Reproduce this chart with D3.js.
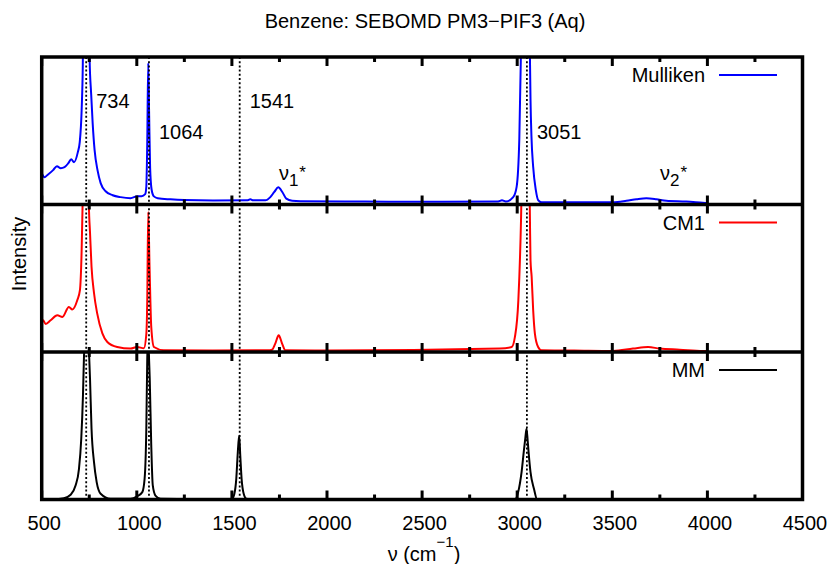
<!DOCTYPE html>
<html>
<head>
<meta charset="utf-8">
<script src="https://cdn.jsdelivr.net/npm/d3@7"></script>
<style>
  html, body { margin: 0; padding: 0; background: #ffffff; }
  svg { display: block; font-family: "Liberation Sans", Arial, Helvetica, sans-serif; }
</style>
</head>
<body>
<script>
// ---------------- data ----------------
const titleText = "Benzene: SEBOMD PM3\u2212PIF3 (Aq)";
const xDomain = [500, 4500];
const xMajorTicks = [500, 1000, 1500, 2000, 2500, 3000, 3500, 4000, 4500];
const xMinorTicks = [750, 1250, 1750, 2250, 2750, 3250, 3750, 4250];
const seriesNames = ["Mulliken", "CM1", "MM"];
const seriesColors = ["#0000ff", "#ff0000", "#000000"];

// [wavenumber cm^-1, relative intensity] (1 = top of panel; values above 1 are clipped)
const mulliken = [
  [500,0.215],[515,0.185],[530,0.2],[560,0.233],[580,0.26],[600,0.246],[620,0.253],[640,0.28],
  [655,0.307],[670,0.287],[690,0.355],[700,0.423],[710,0.64],[716,0.94],[722,1.7],[734,2.6],
  [746,1.7],[752,0.98],[760,0.75],[768,0.55],[778,0.37],[794,0.23],[810,0.145],[836,0.09],
  [873,0.063],[915,0.05],[967,0.043],[1004,0.056],[1025,0.056],[1044,0.07],[1050,0.12],[1055,0.42],
  [1060,0.96],[1065,0.6],[1070,0.25],[1078,0.1],[1090,0.055],[1110,0.043],[1177,0.035],[1250,0.03],
  [1400,0.027],[1580,0.028],[1597,0.036],[1612,0.028],[1676,0.028],[1702,0.05],[1723,0.085],[1744,0.117],
  [1765,0.085],[1786,0.04],[1817,0.025],[1860,0.022],[2200,0.02],[2600,0.018],[2900,0.02],[2920,0.028],
  [2940,0.02],[2979,0.05],[2997,0.12],[3011,0.44],[3019,0.98],[3030,2.0],[3045,2.6],[3058,2.0],
  [3066,1.1],[3070,0.71],[3075,0.46],[3084,0.255],[3098,0.097],[3110,0.03],[3128,0.015],[3300,0.015],
  [3504,0.015],[3574,0.025],[3627,0.036],[3679,0.043],[3732,0.036],[3784,0.025],[3889,0.02],[3976,0.012],
  [4000,0.01]
];
const cm1 = [
  [500,0.215],[507,0.215],[521,0.19],[547,0.215],[582,0.249],[609,0.238],[643,0.305],[661,0.288],
  [687,0.351],[701,0.419],[710,0.69],[715,1.0],[722,1.8],[734,2.6],[742,1.8],[748,1.0],
  [754,0.81],[762,0.578],[775,0.4],[792,0.26],[819,0.126],[845,0.068],[897,0.034],[967,0.023],
  [1002,0.034],[1037,0.025],[1050,0.12],[1055,0.35],[1060,0.95],[1067,0.58],[1076,0.17],[1090,0.034],
  [1142,0.012],[1400,0.01],[1700,0.012],[1711,0.015],[1728,0.057],[1746,0.113],[1764,0.057],[1781,0.012],
  [2000,0.01],[2909,0.023],[2971,0.034],[2988,0.102],[3006,0.35],[3020,0.89],[3029,1.5],[3045,2.5],
  [3060,1.6],[3067,0.9],[3070,0.62],[3076,0.51],[3084,0.283],[3093,0.125],[3110,0.034],[3128,0.012],
  [3300,0.01],[3504,0.007],[3609,0.023],[3688,0.034],[3749,0.023],[3854,0.016],[3977,0.007],[4000,0.007]
];
const mm = [
  [500,0],[547,0],[617,0.009],[652,0.032],[678,0.095],[696,0.208],[708,0.412],[717,0.706],
  [722,0.955],[729,1.15],[736,1.25],[743,1.15],[750,0.955],[754,0.82],[762,0.48],[775,0.253],
  [789,0.118],[810,0.039],[862,0.005],[967,0.005],[1002,0.022],[1029,0.05],[1041,0.14],[1050,0.48],
  [1055,0.955],[1060,1.15],[1064,0.97],[1068,0.82],[1076,0.367],[1084,0.095],[1098,0.027],[1125,0.005],
  [1480,0],[1501,0.005],[1513,0.039],[1523,0.14],[1530,0.298],[1538,0.434],[1544,0.298],[1551,0.14],
  [1562,0.039],[1576,0.005],[1600,0],[2960,0],[2988,0],[3005,0.05],[3023,0.186],[3035,0.33],
  [3043,0.42],[3049,0.48],[3055,0.4],[3060,0.32],[3070,0.186],[3088,0.073],[3105,0],[4000,0]
];
const seriesData = [mulliken, cm1, mm];

const peakPositions = [734, 1064, 1541, 3051];
const peakTexts = ["734", "1064", "1541", "3051"];
const nuLabelPositions = [1747, 3751];
const nuLabelSubs = ["1", "2"];

// ---------------- layout ----------------
const W = 828, H = 564;
const pLeft = 41.7, pRight = 802.5, pTop = 57, pBottom = 499.5;
const panelH = (pBottom - pTop) / 3;
const FS = 20;

const svg = d3.select("body").append("svg").attr("width", W).attr("height", H);

const x = d3.scaleLinear().domain(xDomain).range([pLeft, pRight]);

// title
svg.append("text").attr("x", 425).attr("y", 28).attr("text-anchor", "middle")
  .attr("font-size", FS).attr("fill", "#000").text(titleText);

const defs = svg.append("defs");

seriesData.forEach((data, i) => {
  const y0 = pTop + i * panelH;
  const y = d3.scaleLinear().domain([0, 1]).range([y0 + panelH, y0]);
  defs.append("clipPath").attr("id", "clip" + i).append("rect")
    .attr("x", pLeft).attr("y", y0).attr("width", pRight - pLeft).attr("height", panelH);
  const line = d3.line().x(d => x(d[0])).y(d => y(d[1])).curve(d3.curveMonotoneX);
  svg.append("path").datum(data).attr("clip-path", "url(#clip" + i + ")")
    .attr("d", line).attr("fill", "none").attr("stroke", seriesColors[i])
    .attr("stroke-width", 2).attr("stroke-linejoin", "round");

  // legend
  const ly = y0 + 25;
  svg.append("text").attr("x", 705).attr("y", ly).attr("text-anchor", "end")
    .attr("font-size", FS).attr("fill", "#000").text(seriesNames[i]);
  svg.append("line").attr("x1", 719).attr("x2", 777).attr("y1", ly - 7).attr("y2", ly - 7)
    .attr("stroke", seriesColors[i]).attr("stroke-width", 2);
});

// dotted reference lines
svg.selectAll("line.ref").data(peakPositions).enter().append("line").attr("class", "ref")
  .attr("x1", d => x(d)).attr("x2", d => x(d)).attr("y1", pTop).attr("y2", pBottom)
  .attr("stroke", "#000").attr("stroke-width", 1.8).attr("stroke-dasharray", "2,2.2");

// peak labels
svg.selectAll("text.peak").data(peakPositions).enter().append("text").attr("class", "peak")
  .attr("x", d => x(d) + 10).attr("y", (d, i) => i % 2 === 0 ? 108 : 138.5)
  .attr("font-size", FS).attr("fill", "#000").text((d, i) => peakTexts[i]);

// nu labels
nuLabelPositions.forEach((p, i) => {
  const t = svg.append("text").attr("x", x(p)).attr("y", 180).attr("font-size", FS).attr("fill", "#000");
  t.append("tspan").text("\u03bd");
  t.append("tspan").attr("dy", 6).attr("font-size", 17).text(nuLabelSubs[i]);
  t.append("tspan").attr("dx", 1).attr("dy", -8).attr("font-size", 17).text("*");
});

// ticks on every boundary (inward on both sides of internal boundaries)
const boundaries = [0, 1, 2, 3].map(k => pTop + k * panelH);
const tickG = svg.append("g").attr("class", "ticks");
boundaries.forEach((yb, k) => {
  const up = k > 0 ? 1 : 0, down = k < 3 ? 1 : 0;
  tickG.selectAll(null).data(xMajorTicks).enter().append("line")
    .attr("x1", d => x(d)).attr("x2", d => x(d))
    .attr("y1", yb - 9 * up).attr("y2", yb + 9 * down)
    .attr("stroke", "#000").attr("stroke-width", 3);
  tickG.selectAll(null).data(xMinorTicks).enter().append("line")
    .attr("x1", d => x(d)).attr("x2", d => x(d))
    .attr("y1", yb - 5 * up).attr("y2", yb + 5 * down)
    .attr("stroke", "#000").attr("stroke-width", 3);
});

// x tick labels
const labelAxis = svg.append("g").attr("transform", `translate(2,${pBottom})`)
  .call(d3.axisBottom(x).tickValues(xMajorTicks).tickSize(0).tickPadding(16).tickFormat(d3.format("d")));
labelAxis.select(".domain").remove();
labelAxis.selectAll("text").attr("font-size", FS).attr("fill", "#000")
  .attr("font-family", "Liberation Sans, Arial, sans-serif");

// frame
svg.append("rect").attr("x", pLeft).attr("y", pTop).attr("width", pRight - pLeft).attr("height", pBottom - pTop)
  .attr("fill", "none").attr("stroke", "#000").attr("stroke-width", 3.5);
[1, 2].forEach(k => {
  svg.append("line").attr("x1", pLeft).attr("x2", pRight)
    .attr("y1", pTop + k * panelH).attr("y2", pTop + k * panelH)
    .attr("stroke", "#000").attr("stroke-width", 3.5);
});

// axis titles
const xl = svg.append("text").attr("x", 424).attr("y", 561).attr("text-anchor", "middle")
  .attr("font-size", FS).attr("fill", "#000");
xl.append("tspan").text("\u03bd (cm");
xl.append("tspan").attr("dy", -14).attr("font-size", 15).text("\u22121");
xl.append("tspan").attr("dy", 14).text(")");

svg.append("text").attr("transform", "translate(26,254) rotate(-90)").attr("text-anchor", "middle")
  .attr("font-size", FS).attr("fill", "#000").text("Intensity");
</script>
</body>
</html>
